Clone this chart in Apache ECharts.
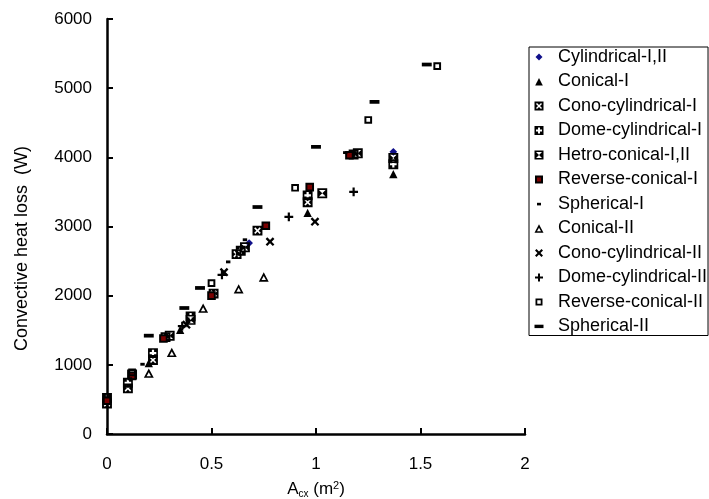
<!DOCTYPE html>
<html>
<head>
<meta charset="utf-8">
<script src="https://cdn.jsdelivr.net/npm/echarts@6/dist/echarts.min.js"></script>
<style>
  html, body { margin: 0; padding: 0; background: #fff; }
  #chart { width: 709px; height: 499px; }
</style>
</head>
<body>
<div id="chart"></div>
<script>
// data: [A_cx (m2), convective heat loss (W)]
const seriesNames = [
  'Cylindrical-I,II', 'Conical-I', 'Cono-cylindrical-I', 'Dome-cylindrical-I',
  'Hetro-conical-I,II', 'Reverse-conical-I', 'Spherical-I', 'Conical-II',
  'Cono-cylindrical-II', 'Dome-cylindrical-II', 'Reverse-conical-II', 'Spherical-II'
];
const cylindrical = [[0.68, 2760], [1.37, 4080]];
const conicalI = [[0.2, 1030], [0.35, 1510], [0.96, 3200], [1.37, 3760]];
const conoCylI = [[0, 440], [0.1, 660], [0.22, 1070], [0.28, 1400], [0.51, 2030], [0.62, 2600], [0.72, 2940], [0.96, 3350], [1.18, 4040]];
const domeCylI = [[0, 520], [0.1, 740], [0.22, 1170], [0.4, 1700], [0.64, 2650], [0.96, 3450], [1.37, 3900]];
const hetroConical = [[0.12, 860], [0.3, 1420], [0.4, 1650], [0.66, 2700], [1.03, 3480], [1.2, 4060], [1.37, 3990]];
const reverseConI = [[0, 480], [0.12, 840], [0.27, 1380], [0.5, 2000], [0.76, 3010], [0.97, 3570], [1.16, 4030]];
const sphericalI = [[0.11, 800], [0.17, 1010], [0.58, 2490], [0.66, 2810], [1.14, 4070]];
const conicalII = [[0.2, 880], [0.31, 1180], [0.46, 1820], [0.63, 2100], [0.75, 2270]];
const conoCylII = [[0.38, 1580], [0.56, 2340], [0.78, 2780], [0.995, 3070]];
const domeCylII = [[0.36, 1560], [0.55, 2300], [0.87, 3140], [1.18, 3500]];
const reverseConII = [[0.12, 890], [0.5, 2180], [0.9, 3560], [1.25, 4540], [1.58, 5320]];
const sphericalII = [[0.2, 1420], [0.37, 1820], [0.445, 2110], [0.72, 3280], [1.0, 4150], [1.28, 4800], [1.53, 5340]];
const yTicks = [0, 1000, 2000, 3000, 4000, 5000, 6000];
const xTicks = [0, 0.5, 1, 1.5, 2];

// every symbol lives in a 0..10 box (the M0,0 M10,10 pins the box)
const BOX = 'M0,0 M10,10 ';
const SYM = {
  diamond: 'path://' + BOX + 'M5,1.5 L8.5,5 L5,8.5 L1.5,5 Z',
  triFill: 'path://' + BOX + 'M5,1.5 L8.8,9 L1.2,9 Z',
  sqX: 'path://' + BOX + 'M0.5,0.5 L9.5,0.5 L9.5,9.5 L0.5,9.5 Z M4,5 L2,7 L3,8 L5,6 L7,8 L8,7 L6,5 L8,3 L7,2 L5,4 L3,2 L2,3 Z',
  sqPlus: 'path://' + BOX + 'M0.5,0.5 L9.5,0.5 L9.5,9.5 L0.5,9.5 Z M4,4 L2,4 L2,6 L4,6 L4,8 L6,8 L6,6 L8,6 L8,4 L6,4 L6,2 L4,2 Z',
  sqHour: 'path://' + BOX + 'M0.5,0.5 L9.5,0.5 L9.5,9.5 L0.5,9.5 Z M2,2 L5,5 L8,2 Z M2,8 L8,8 L5,5 Z',
  sqSmall: 'path://' + BOX + 'M2,2 L8,2 L8,8 L2,8 Z',
  dot: 'path://' + BOX + 'M3,3.8 L7,3.8 L7,6.4 L3,6.4 Z',
  triOpen: 'path://' + BOX + 'M5,0.8 L9.5,9.3 L0.5,9.3 Z M5,4.2 L3,7.8 L7,7.8 Z',
  cross: 'path://' + BOX + 'M1,2.5 L2.5,1 L5,3.5 L7.5,1 L9,2.5 L6.5,5 L9,7.5 L7.5,9 L5,6.5 L2.5,9 L1,7.5 L3.5,5 Z',
  plus: 'path://' + BOX + 'M4,1 L6,1 L6,4 L9,4 L9,6 L6,6 L6,9 L4,9 L4,6 L1,6 L1,4 L4,4 Z',
  sqOpen: 'path://' + BOX + 'M1.5,1.5 L8.5,1.5 L8.5,8.5 L1.5,8.5 Z M3.3,3.3 L3.3,6.7 L6.7,6.7 L6.7,3.3 Z',
  dash: 'path://' + BOX + 'M0.5,3.2 L9.5,3.2 L9.5,6.6 L0.5,6.6 Z'
};

const seriesDefs = [
  { data: cylindrical, symbol: SYM.diamond, color: '#10108a' },
  { data: conicalI, symbol: SYM.triFill, color: '#000' },
  { data: conoCylI, symbol: SYM.sqX, color: '#000' },
  { data: domeCylI, symbol: SYM.sqPlus, color: '#000' },
  { data: hetroConical, symbol: SYM.sqHour, color: '#000' },
  { data: reverseConI, symbol: SYM.sqSmall, color: '#7a0000', border: true },
  { data: sphericalI, symbol: SYM.dot, color: '#000' },
  { data: conicalII, symbol: SYM.triOpen, color: '#000' },
  { data: conoCylII, symbol: SYM.cross, color: '#000' },
  { data: domeCylII, symbol: SYM.plus, color: '#000' },
  { data: reverseConII, symbol: SYM.sqOpen, color: '#000' },
  { data: sphericalII, symbol: SYM.dash, color: '#000' }
];

const FONT = 'Liberation Sans, Arial, sans-serif';

const chart = echarts.init(document.getElementById('chart'));
chart.setOption({
  backgroundColor: '#fff',
  animation: false,
  grid: { left: 107, right: 184, top: 19, bottom: 65, outerBoundsMode: 'none', containLabel: false },
  legend: {
    orient: 'vertical',
    left: 529,
    top: 47,
    padding: [1, 1, 0, 4],
    itemWidth: 10,
    itemHeight: 10,
    itemGap: 6.5,
    backgroundColor: '#fff',
    borderColor: '#000',
    borderWidth: 1,
    borderRadius: 0,
    data: seriesNames,
    textStyle: { fontFamily: FONT, fontSize: 18, color: '#000', padding: [0, 0, 0, 9] }
  },
  xAxis: {
    type: 'value',
    min: 0,
    max: 2,
    interval: 0.5,
    name: '{a|A}{s|cx}{a| (m}{p|2}{a|)}',
    nameLocation: 'middle',
    nameGap: 46,
    nameTextStyle: {
      rich: {
        a: { fontFamily: FONT, fontSize: 17, color: '#000' },
        s: { fontFamily: FONT, fontSize: 10, color: '#000', padding: [9, 0, 0, 0] },
        p: { fontFamily: FONT, fontSize: 11, color: '#000', padding: [0, 0, 8, 0] }
      }
    },
    axisLine: { lineStyle: { color: '#000', width: 2.5 } },
    axisTick: { inside: true, length: 6, lineStyle: { color: '#000', width: 2 } },
    axisLabel: {
      margin: 22,
      fontFamily: FONT, fontSize: 17, color: '#000',
      formatter: v => (xTicks.indexOf(v) >= 0 ? String(v) : '')
    },
    splitLine: { show: false }
  },
  yAxis: {
    type: 'value',
    min: 0,
    max: 6000,
    interval: 1000,
    name: 'Convective heat loss  (W)',
    nameLocation: 'middle',
    nameGap: 76,
    nameTextStyle: { fontFamily: FONT, fontSize: 18, color: '#000', padding: [0, 44, 0, 0] },
    axisLine: { show: true, lineStyle: { color: '#000', width: 2.5 } },
    axisTick: { show: true, inside: true, length: 6, lineStyle: { color: '#000', width: 2 } },
    axisLabel: {
      margin: 15,
      fontFamily: FONT, fontSize: 17, color: '#000',
      formatter: v => (yTicks.indexOf(v) >= 0 ? String(v) : '')
    },
    splitLine: { show: false }
  },
  series: seriesDefs.map((d, i) => ({
    name: seriesNames[i],
    type: 'scatter',
    data: d.data,
    symbol: d.symbol,
    symbolSize: 11,
    itemStyle: d.border
      ? { color: d.color, borderColor: '#000', borderWidth: 2, opacity: 1 }
      : { color: d.color, opacity: 1 }
  }))
});
</script>
</body>
</html>
